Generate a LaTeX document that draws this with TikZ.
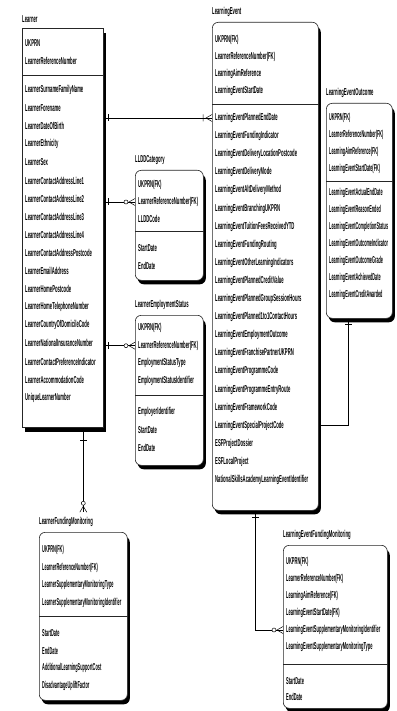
\documentclass[tikz,border=0pt]{standalone}
\usepackage{fontspec}
\setmainfont{Liberation Sans}
\usetikzlibrary{shadows}
\newcommand{\squeeze}[2][0.42]{\scalebox{#1}[1]{#2}}
\tikzset{
  entity/.style  = {draw=black!85, fill=white, line width=0.6pt, anchor=north west,
                   inner sep=0pt},
  independent/.style = {entity,
                   drop shadow={shadow xshift=3pt, shadow yshift=-5pt, fill=black, opacity=1}},
  dependent/.style = {entity, rounded corners=6pt,
                   drop shadow={shadow xshift=2.5pt, shadow yshift=-4pt, fill=black, opacity=1}},
  attr/.style    = {anchor=west, inner sep=0pt, font=\fontsize{10}{12}\selectfont\bfseries},
  caption/.style = {attr, anchor=south west, yshift=5pt},
  divider/.style = {draw=black!85, line width=0.6pt},
  rel/.style     = {draw=black, line width=0.5pt},
  onebar/.pic    = {\draw[rel] (#1,-3.5) -- (#1,3.5);},
  manyopt/.pic   = {\draw[rel] (0,-3.5) -- (-6,0) -- (0,3.5);
                    \draw[rel, fill=white] (-9,0) circle (2pt);},
  manyone/.pic   = {\draw[rel] (0,-3.5) -- (-6,0) -- (0,3.5) (-9,-3.5) -- (-9,3.5);}
}

\begin{document}
\begin{tikzpicture}[x=1pt, y=-1pt]
  \useasboundingbox (0,0) rectangle (396,711);

  % independent entity, Learner
  \node[independent, minimum width=81pt, minimum height=399pt] (learner) at (22,28) {};
  \node[caption] (learner-t) at (learner.north west) {\squeeze{Learner}};
  \foreach \t [count=\i] in {UKPRN, LearnerReferenceNumber}
    \node[attr] (learner-k\i) at (25,{43+18*(\i-1)}) {\squeeze{\t}};
  \foreach \t [count=\i] in {LearnerSurnameFamilyName, LearnerForename, LearnerDateOfBirth,
      LearnerEthnicity, LearnerSex, LearnerContactAddressLine1, LearnerContactAddressLine2,
      LearnerContactAddressLine3, LearnerContactAddressLine4, LearnerContactAddressPostcode,
      LearnerEmailAddress, LearnerHomePostcode, LearnerHomeTelephoneNumber,
      LearnerCountryOfDomicileCode, LearnerNationalInsuranceNumber,
      LearnerContactPreferenceIndicator, LearnerAccommodationCode, UniqueLearnerNumber}
    \node[attr] (learner-r\i) at (25,{90+18.1*(\i-1)}) {\squeeze{\t}};
  \coordinate (learner-d) at (0,75);
  \draw[divider] (learner.west |- learner-d) -- (learner.east |- learner-d);

  % LearningEvent
  \node[dependent, minimum width=106pt, minimum height=488pt] (event) at (212,22) {};
  \node[caption] (event-t) at (event.north west) {\squeeze{LearningEvent}};
  \foreach \t [count=\i] in {UKPRN(FK), LearnerReferenceNumber(FK), LearningAimReference,
      LearningEventStartDate}
    \node[attr] (event-k\i) at (215,{40+17*(\i-1)}) {\squeeze{\t}};
  \foreach \t [count=\i] in {LearningEventPlannedEndDate, LearningEventFundingIndicator,
      LearningEventDeliveryLocationPostcode, LearningEventDeliveryMode,
      LearningEventAltDeliveryMethod, LearningEventBranchingUKPRN,
      LearningEventTuitionFeesReceivedYTD, LearningEventFundingRouting,
      LearningEventOtherLearningIndicators, LearningEventPlannedCreditValue,
      LearningEventPlannedGroupSessionHours, LearningEventPlanned1to1ContactHours,
      LearningEventEmploymentOutcome, LearningEventFranchisePartnerUKPRN,
      LearningEventProgrammeCode, LearningEventProgrammeEntryRoute,
      LearningEventFrameworkCode, LearningEventSpecialProjectCode, ESFProjectDossier,
      ESFLocalProject, NationalSkillsAcademyLearningEventIdentifier}
    \node[attr] (event-r\i) at (215,{118+18.1*(\i-1)}) {\squeeze{\t}};
  \coordinate (event-d) at (0,104);
  \draw[divider] (event.west |- event-d) -- (event.east |- event-d);

  % LearningEventOutcome
  \node[dependent, minimum width=66pt, minimum height=215pt] (outcome) at (326,103) {};
  \node[caption] (outcome-t) at (outcome.north west) {\squeeze{LearningEventOutcome}};
  \foreach \t [count=\i] in {UKPRN(FK), LearnerReferenceNumber(FK), LearningAimReference(FK),
      LearningEventStartDate(FK)}
    \node[attr] (outcome-k\i) at (329,{118+17*(\i-1)}) {\squeeze[0.38]{\t}};
  \foreach \t [count=\i] in {LearningEventActualEndDate, LearningEventReasonEnded,
      LearningEventCompletionStatus, LearningEventOutcomeIndicator, LearningEventOutcomeGrade,
      LearningEventAchievedDate, LearningEventCreditAwarded}
    \node[attr] (outcome-r\i) at (329,{193+17*(\i-1)}) {\squeeze[0.38]{\t}};
  \coordinate (outcome-d) at (0,181);
  \draw[divider] (outcome.west |- outcome-d) -- (outcome.east |- outcome-d);

  % LLDDCategory
  \node[dependent, minimum width=68pt, minimum height=110pt] (lldd) at (135,170) {};
  \node[caption] (lldd-t) at (lldd.north west) {\squeeze{LLDDCategory}};
  \foreach \t [count=\i] in {UKPRN(FK), LearnerReferenceNumber(FK), LLDDCode}
    \node[attr] (lldd-k\i) at (138,{185+17*(\i-1)}) {\squeeze{\t}};
  \foreach \t [count=\i] in {StartDate, EndDate}
    \node[attr] (lldd-r\i) at (138,{248+18*(\i-1)}) {\squeeze{\t}};
  \coordinate (lldd-d) at (0,231);
  \draw[divider] (lldd.west |- lldd-d) -- (lldd.east |- lldd-d);

  % LearnerEmploymentStatus
  \node[dependent, minimum width=68pt, minimum height=150pt] (emp) at (135,315) {};
  \node[caption] (emp-t) at (emp.north west) {\squeeze{LearnerEmploymentStatus}};
  \foreach \t [count=\i] in {UKPRN(FK), LearnerReferenceNumber(FK), EmploymentStatusType,
      EmploymentStatusIdentifier}
    \node[attr] (emp-k\i) at (138,{328+17.7*(\i-1)}) {\squeeze{\t}};
  \foreach \t [count=\i] in {EmployerIdentifier, StartDate, EndDate}
    \node[attr] (emp-r\i) at (138,{412+18*(\i-1)}) {\squeeze{\t}};
  \coordinate (emp-d) at (0,395);
  \draw[divider] (emp.west |- emp-d) -- (emp.east |- emp-d);

  % LearnerFundingMonitoring
  \node[dependent, minimum width=88pt, minimum height=168pt] (lfm) at (39,532) {};
  \node[caption] (lfm-t) at (lfm.north west) {\squeeze{LearnerFundingMonitoring}};
  \foreach \t [count=\i] in {UKPRN(FK), LearnerReferenceNumber(FK),
      LearnerSupplementaryMonitoringType, LearnerSupplementaryMonitoringIdentifier}
    \node[attr] (lfm-k\i) at (42,{550+17.7*(\i-1)}) {\squeeze[0.39]{\t}};
  \foreach \t [count=\i] in {StartDate, EndDate, AdditionalLearningSupportCost,
      DisadvantageUpliftFactor}
    \node[attr] (lfm-r\i) at (42,{633+17.7*(\i-1)}) {\squeeze[0.39]{\t}};
  \coordinate (lfm-d) at (0,616);
  \draw[divider] (lfm.west |- lfm-d) -- (lfm.east |- lfm-d);

  % LearningEventFundingMonitoring
  \node[dependent, minimum width=104pt, minimum height=163pt] (lefm) at (283,545) {};
  \node[caption] (lefm-t) at (lefm.north west) {\squeeze{LearningEventFundingMonitoring}};
  \foreach \t [count=\i] in {UKPRN(FK), LearnerReferenceNumber(FK), LearningAimReference(FK),
      LearningEventStartDate(FK), LearningEventSupplementaryMonitoringIdentifier,
      LearningEventSupplementaryMonitoringType}
    \node[attr] (lefm-k\i) at (286,{562+17*(\i-1)}) {\squeeze[0.40]{\t}};
  \foreach \t [count=\i] in {StartDate, EndDate}
    \node[attr] (lefm-r\i) at (286,{681+16*(\i-1)}) {\squeeze[0.40]{\t}};
  \coordinate (lefm-d) at (0,664);
  \draw[divider] (lefm.west |- lefm-d) -- (lefm.east |- lefm-d);

  % relationships out of Learner
  \draw[rel] (learner.east |- event-r1) -- (event.west |- event-r1);
  \pic at (learner.east |- event-r1) {onebar=5};
  \pic at (event.west |- event-r1) {manyone};

  \foreach \child in {lldd, emp} {
    \draw[rel] (learner.east |- \child-k2) -- (\child.west |- \child-k2);
    \pic at (learner.east |- \child-k2) {onebar=5};
    \pic at (\child.west |- \child-k2) {manyopt};
  }

  \path (lfm.north |- lfm-t.north) ++(0,-5) coordinate (lfm-in);
  \draw[rel] (lfm-in |- learner.south) -- (lfm-in);
  \pic[rotate=-90] at (lfm-in |- learner.south) {onebar=13};
  \pic[rotate=-90] at (lfm-in) {manyopt};

  % relationships out of LearningEvent
  \path (event.south) ++(-10,0) coordinate (event-out);
  \draw[rel] (event-out) |- (lefm.west |- lefm-k5);
  \pic[rotate=-90] at (event-out) {onebar=7};
  \pic at (lefm.west |- lefm-k5) {manyopt};

  \path (outcome.south) ++(-11,0) coordinate (outcome-out);
  \draw[rel] (outcome-out) |- (event.east |- event-r18);
  \pic[rotate=-90] at (outcome-out) {onebar=6};
\end{tikzpicture}
\end{document}
